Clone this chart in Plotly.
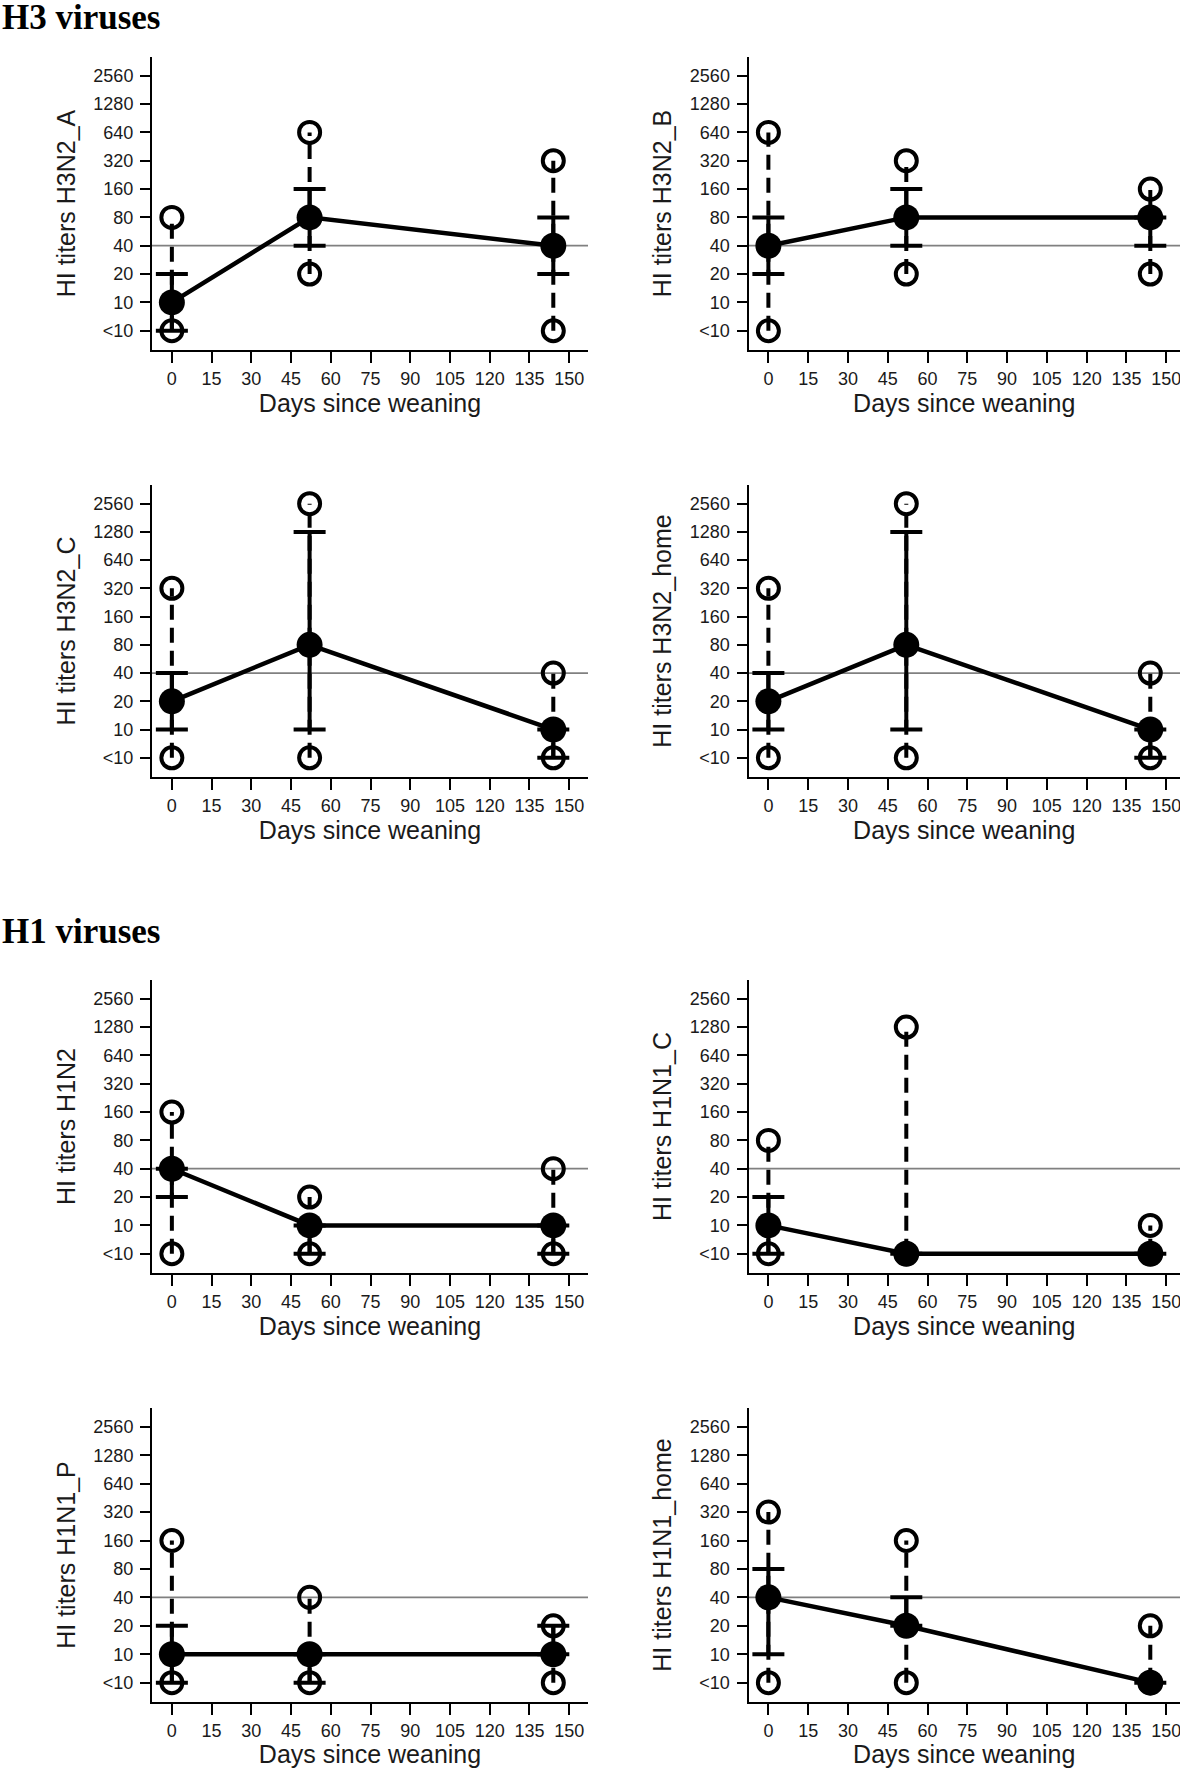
import math
import plotly.graph_objects as go

# ---------------- data ----------------
DAYS = [0, 52, 144]
TITER_TICKS = [5, 10, 20, 40, 80, 160, 320, 640, 1280, 2560]   # 5 stands for "<10"
TITER_LABELS = ["<10", "10", "20", "40", "80", "160", "320", "640", "1280", "2560"]
X_TICKS = list(range(0, 151, 15))
THRESHOLD = 40

PANEL_NAMES = ["H3N2_A", "H3N2_B", "H3N2_C", "H3N2_home",
               "H1N2", "H1N1_C", "H1N1_P", "H1N1_home"]

# median, lower quartile, upper quartile, minimum, maximum per day (titers; 5 = "<10")
H3N2_A_MED = [10, 80, 40]
H3N2_A_Q1 = [5, 40, 20]
H3N2_A_Q3 = [20, 160, 80]
H3N2_A_MIN = [5, 20, 5]
H3N2_A_MAX = [80, 640, 320]

H3N2_B_MED = [40, 80, 80]
H3N2_B_Q1 = [20, 40, 40]
H3N2_B_Q3 = [80, 160, 80]
H3N2_B_MIN = [5, 20, 20]
H3N2_B_MAX = [640, 320, 160]

H3N2_C_MED = [20, 80, 10]
H3N2_C_Q1 = [10, 10, 5]
H3N2_C_Q3 = [40, 1280, 10]
H3N2_C_MIN = [5, 5, 5]
H3N2_C_MAX = [320, 2560, 40]

H3N2_HOME_MED = [20, 80, 10]
H3N2_HOME_Q1 = [10, 10, 5]
H3N2_HOME_Q3 = [40, 1280, 10]
H3N2_HOME_MIN = [5, 5, 5]
H3N2_HOME_MAX = [320, 2560, 40]

H1N2_MED = [40, 10, 10]
H1N2_Q1 = [20, 5, 5]
H1N2_Q3 = [40, 10, 10]
H1N2_MIN = [5, 5, 5]
H1N2_MAX = [160, 20, 40]

H1N1_C_MED = [10, 5, 5]
H1N1_C_Q1 = [5, 5, 5]
H1N1_C_Q3 = [20, 5, 5]
H1N1_C_MIN = [5, 5, 5]
H1N1_C_MAX = [80, 1280, 10]

H1N1_P_MED = [10, 10, 10]
H1N1_P_Q1 = [5, 5, 10]
H1N1_P_Q3 = [20, 10, 20]
H1N1_P_MIN = [5, 5, 5]
H1N1_P_MAX = [160, 40, 20]

H1N1_HOME_MED = [40, 20, 5]
H1N1_HOME_Q1 = [10, 20, 5]
H1N1_HOME_Q3 = [80, 40, 5]
H1N1_HOME_MIN = [5, 5, 5]
H1N1_HOME_MAX = [320, 160, 20]

PANEL_DATA = {
    "H3N2_A": (H3N2_A_MED, H3N2_A_Q1, H3N2_A_Q3, H3N2_A_MIN, H3N2_A_MAX),
    "H3N2_B": (H3N2_B_MED, H3N2_B_Q1, H3N2_B_Q3, H3N2_B_MIN, H3N2_B_MAX),
    "H3N2_C": (H3N2_C_MED, H3N2_C_Q1, H3N2_C_Q3, H3N2_C_MIN, H3N2_C_MAX),
    "H3N2_home": (H3N2_HOME_MED, H3N2_HOME_Q1, H3N2_HOME_Q3, H3N2_HOME_MIN, H3N2_HOME_MAX),
    "H1N2": (H1N2_MED, H1N2_Q1, H1N2_Q3, H1N2_MIN, H1N2_MAX),
    "H1N1_C": (H1N1_C_MED, H1N1_C_Q1, H1N1_C_Q3, H1N1_C_MIN, H1N1_C_MAX),
    "H1N1_P": (H1N1_P_MED, H1N1_P_Q1, H1N1_P_Q3, H1N1_P_MIN, H1N1_P_MAX),
    "H1N1_home": (H1N1_HOME_MED, H1N1_HOME_Q1, H1N1_HOME_Q3, H1N1_HOME_MIN, H1N1_HOME_MAX),
}

SECTION_TITLES = ["H3 viruses", "H1 viruses"]

# ---------------- layout geometry ----------------
W, H = 1180, 1768
COL_PX = [(152, 588), (748.5, 1180)]
ROW_PX = [(57, 350), (485, 777), (980, 1273), (1408, 1702)]
X_RANGES = [[-7.5, 157.1], [-7.5, 155.2]]   # right column is cut at the page edge
LOG2 = math.log10(2)
Y_RANGE = [math.log10(5) - 0.68 * LOG2, math.log10(5) + 9.66 * LOG2]

SANS = "Liberation Sans, Arial, sans-serif"
SERIF = "Liberation Serif, Times New Roman, serif"
TXT = "#1a1a1a"

fig = go.Figure()
layout = dict(
    width=W, height=H,
    margin=dict(l=0, r=0, t=0, b=0),
    paper_bgcolor="white", plot_bgcolor="white",
    showlegend=False,
    font=dict(family=SANS, color=TXT),
)

for i, name in enumerate(PANEL_NAMES):
    row, col = divmod(i, 2)
    n = i + 1
    xa = "x" if n == 1 else f"x{n}"
    ya = "y" if n == 1 else f"y{n}"
    med, q1, q3, mn, mx = PANEL_DATA[name]
    xr = X_RANGES[col]

    # threshold line
    fig.add_trace(go.Scatter(
        x=xr, y=[THRESHOLD, THRESHOLD], mode="lines",
        line=dict(color="#808080", width=1.8), xaxis=xa, yaxis=ya,
        hoverinfo="skip"))

    # dashed range lines min..max
    rx, ry = [], []
    for d, lo, hi in zip(DAYS, mn, mx):
        rx += [d, d, None]
        ry += [lo, hi, None]
    fig.add_trace(go.Scatter(
        x=rx, y=ry, mode="lines",
        line=dict(color="black", width=4, dash="15px,8px"),
        xaxis=xa, yaxis=ya, hoverinfo="skip"))

    # open circles for min and max
    fig.add_trace(go.Scatter(
        x=DAYS + DAYS, y=list(mn) + list(mx), mode="markers",
        marker=dict(symbol="circle-open", size=21, color="black",
                    line=dict(width=4, color="black")),
        xaxis=xa, yaxis=ya))

    # median with IQR bars
    fig.add_trace(go.Scatter(
        x=DAYS, y=med, mode="lines+markers",
        line=dict(color="black", width=4.5),
        marker=dict(symbol="circle", size=26, color="black"),
        error_y=dict(type="data", symmetric=False,
                     array=[b - a for a, b in zip(med, q3)],
                     arrayminus=[a - b for a, b in zip(med, q1)],
                     color="black", thickness=4, width=16),
        xaxis=xa, yaxis=ya))

    x0, x1 = COL_PX[col]
    t, b = ROW_PX[row]
    layout[f"xaxis{n}"] = dict(
        domain=[x0 / W, x1 / W], anchor=ya, range=xr,
        tickmode="array", tickvals=X_TICKS, ticktext=[str(v) for v in X_TICKS],
        showline=True, linecolor="black", linewidth=2,
        ticks="outside", ticklen=11, tickwidth=2, tickcolor="black",
        ticklabelstandoff=0, ticklabeloverflow="allow",
        showgrid=False, zeroline=False,
        tickfont=dict(family=SANS, size=18, color=TXT),
        title=dict(text="Days since weaning", font=dict(family=SANS, size=25, color=TXT),
                   standoff=0),
    )
    layout[f"yaxis{n}"] = dict(
        domain=[1 - b / H, 1 - t / H], anchor=xa, type="log", range=Y_RANGE,
        tickmode="array", tickvals=TITER_TICKS, ticktext=TITER_LABELS,
        showline=True, linecolor="black", linewidth=2,
        ticks="outside", ticklen=10, tickwidth=2, tickcolor="black",
        ticklabelstandoff=3,
        showgrid=False, zeroline=False,
        tickfont=dict(family=SANS, size=18, color=TXT),
        title=dict(text=f"HI titers {name}", font=dict(family=SANS, size=25, color=TXT),
                   standoff=11),
    )

annotations = []
for title, ypx in zip(SECTION_TITLES, [18, 931]):
    annotations.append(dict(
        text=f"<b>{title}</b>", x=0, xref="paper", xanchor="left",
        y=1 - ypx / H, yref="paper", yanchor="middle", showarrow=False,
        font=dict(family=SERIF, size=35, color="black")))
layout["annotations"] = annotations

fig.update_layout(**layout)
fig.write_html("out.html", config={"displayModeBar": False},
               post_script="document.body.style.margin='0px';document.body.style.padding='0px';")
